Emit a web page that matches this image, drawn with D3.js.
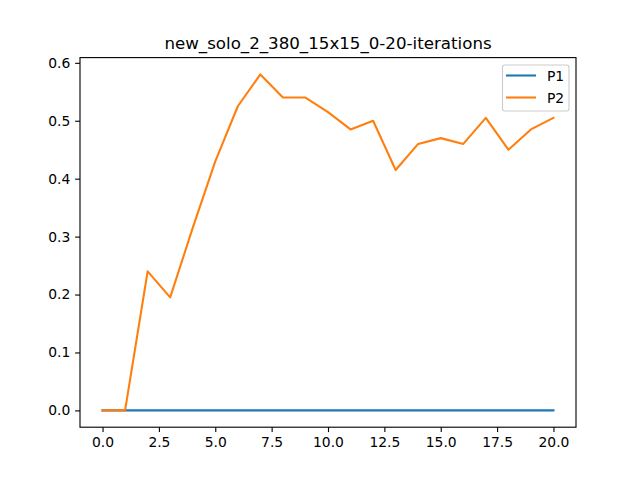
<!DOCTYPE html>
<html><head><meta charset="utf-8">
<script src="https://cdn.jsdelivr.net/npm/d3@7"></script>
<style>body{margin:0;background:#fff}svg{display:block}text{font-family:"DejaVu Sans",sans-serif}</style>
</head><body>
<svg id="c" width="640" height="480"></svg>
<script>
const iterations = [0,1,2,3,4,5,6,7,8,9,10,11,12,13,14,15,16,17,18,19,20];
const p1 = [0,0,0,0,0,0,0,0,0,0,0,0,0,0,0,0,0,0,0,0,0];
const p2 = [0,0,0.24,0.195,0.315,0.43,0.525,0.58,0.54,0.54,0.515,0.485,0.5,0.415,0.46,0.47,0.46,0.505,0.45,0.485,0.505];
const xTicks = [0,2.5,5,7.5,10,12.5,15,17.5,20];
const yTicks = [0,0.1,0.2,0.3,0.4,0.5,0.6];
const seriesNames = ["P1","P2"];
const colors = ["#1f77b4","#ff7f0e"];
const title = "new_solo_2_380_15x15_0-20-iterations";

const pt = 100/72;
const svg = d3.select("#c");
const L=80,R=576,T=57.6,B=427.2;
const allY = p1.concat(p2);
const ymin=d3.min(allY), ymax=d3.max(allY), yr=ymax-ymin;
const x = d3.scaleLinear().domain([-1,21]).range([L,R]);
const y = d3.scaleLinear().domain([ymin-0.05*yr, ymax+0.05*yr]).range([B,T]);

function style(g){
  g.select(".domain").remove();
  g.selectAll("text").attr("font-size",10*pt).attr("fill","#000").attr("font-family","DejaVu Sans");
  g.selectAll("line").attr("stroke","#000").attr("stroke-width",0.8*pt);
}
svg.append("g").attr("transform",`translate(0,${B})`)
  .call(d3.axisBottom(x).tickValues(xTicks).tickSize(3.5*pt).tickPadding(3.5*pt).tickFormat(d3.format(".1f")))
  .call(style);
svg.append("g").attr("transform",`translate(${L},0)`)
  .call(d3.axisLeft(y).tickValues(yTicks).tickSize(3.5*pt).tickPadding(3.5*pt).tickFormat(d3.format(".1f")))
  .call(style);

const line = d3.line().x((d,i)=>x(iterations[i])).y(d=>y(d));
[p1,p2].forEach((s,i)=>{
  svg.append("path").datum(s).attr("d",line).attr("fill","none").attr("stroke",colors[i]).attr("stroke-width",1.5*pt).attr("stroke-linecap","square").attr("stroke-linejoin","round");
});

svg.append("rect").attr("x",L).attr("y",T).attr("width",R-L).attr("height",B-T).attr("fill","none").attr("stroke","#000").attr("stroke-width",0.8*pt);

svg.append("text").attr("x",(L+R)/2).attr("y",T-6*pt).attr("text-anchor","middle").attr("font-size",12*pt).text(title);

// legend
const lg = svg.append("g");
lg.append("rect").attr("x",502.5).attr("y",65).attr("width",66.5).attr("height",46).attr("rx",2.5).attr("fill","#fff").attr("fill-opacity",0.8).attr("stroke","#ccc").attr("stroke-width",0.8*pt);
seriesNames.forEach((n,i)=>{
  const yy = 75.5 + i*22;
  lg.append("line").attr("x1",506).attr("x2",536).attr("y1",yy).attr("y2",yy).attr("stroke",colors[i]).attr("stroke-width",1.5*pt);
  lg.append("text").attr("x",547).attr("y",yy+5).attr("font-size",10*pt).text(n);
});
</script>
</body></html>
